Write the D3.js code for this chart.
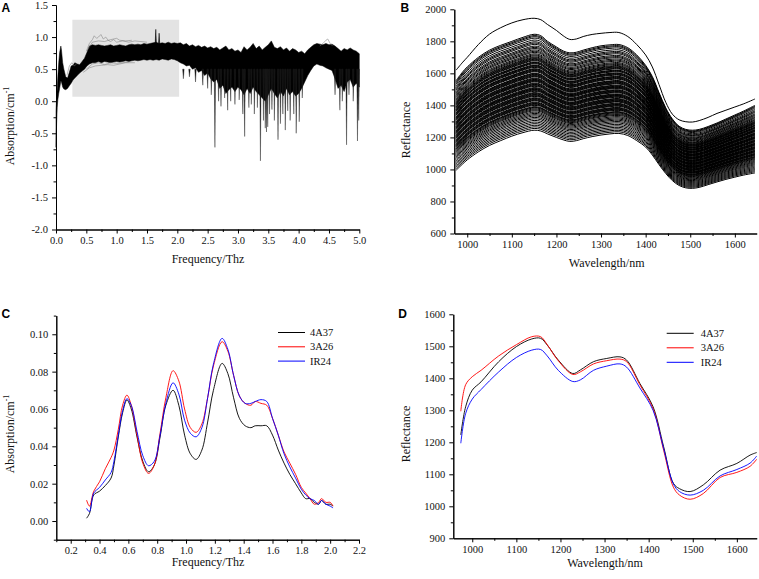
<!DOCTYPE html>
<html>
<head>
<meta charset="UTF-8">
<style>
body { margin: 0; padding: 0; background: #fff; }
svg { display: block; font-family: "Liberation Serif", "Times New Roman", serif; }
.tick text { font-family: "Liberation Serif", "Times New Roman", serif; font-size: 10.5px; fill: #111; }
.title { font-family: "Liberation Serif", "Times New Roman", serif; font-size: 12px; fill: #111; }
.legend { font-family: "Liberation Serif", "Times New Roman", serif; font-size: 10.5px; fill: #111; }
.panel { font-family: "Liberation Sans", Arial, sans-serif; font-weight: bold; font-size: 12px; fill: #000; }
</style>
</head>
<body>
<svg width="759" height="579"></svg>
<script src="https://d3js.org/d3.v7.min.js"></script>
<script>

// ---------- data ----------

// Panel A: THz absorption, envelope of all samples
const aFreq = [0, 0.01, 0.02, 0.03, 0.045, 0.06, 0.08, 0.09, 0.11, 0.13, 0.16, 0.19, 0.22, 0.25, 0.28, 0.31, 0.35, 0.39, 0.43, 0.47,
  0.51, 0.55, 0.6, 0.65, 0.7, 0.75, 0.8, 0.85, 0.9, 0.95, 1.0, 1.05, 1.1, 1.15, 1.2, 1.25, 1.3, 1.35, 1.4, 1.45,
  1.5, 1.55, 1.6, 1.65, 1.7, 1.75, 1.8, 1.85, 1.9, 1.95, 2.0, 2.05, 2.1, 2.15, 2.2, 2.25, 2.3, 2.35, 2.4, 2.45,
  2.5, 2.55, 2.6, 2.65, 2.7, 2.75, 2.8, 2.85, 2.9, 2.95, 3.0, 3.05, 3.1, 3.15, 3.2, 3.25, 3.3, 3.35, 3.4, 3.45,
  3.5, 3.55, 3.6, 3.65, 3.7, 3.75, 3.8, 3.85, 3.9, 3.95, 4.0, 4.05, 4.1, 4.15, 4.2, 4.25, 4.3, 4.35, 4.4, 4.45,
  4.5, 4.55, 4.6, 4.65, 4.7, 4.75, 4.8, 4.85, 4.9, 4.95, 5.0];
const aUpper = [-0.15, 0.05, 0.2, 0.38, 0.6, 0.76, 0.86, 0.8, 0.6, 0.5, 0.38, 0.36, 0.45, 0.55, 0.56, 0.6, 0.58, 0.57, 0.62, 0.67,
  0.76, 0.86, 0.88, 0.87, 0.88, 0.87, 0.86, 0.87, 0.88, 0.86, 0.87, 0.88, 0.87, 0.86, 0.88, 0.89, 0.88, 0.89, 0.88, 0.9,
  0.89, 0.9, 0.91, 0.92, 0.9, 0.91, 0.9, 0.92, 0.9, 0.91, 0.9, 0.91, 0.88, 0.9, 0.86, 0.88, 0.85, 0.87, 0.84, 0.86,
  0.83, 0.85, 0.82, 0.84, 0.8, 0.83, 0.86, 0.8, 0.82, 0.78, 0.8, 0.76, 0.85, 0.8, 0.84, 0.9, 0.82, 0.86, 0.8, 0.84,
  0.88, 0.94, 0.84, 0.82, 0.85, 0.8, 0.83, 0.78, 0.82, 0.8, 0.76, 0.78, 0.74, 0.8, 0.84, 0.88, 0.9, 0.89, 0.88, 0.9,
  0.88, 0.89, 0.86, 0.82, 0.78, 0.82, 0.8, 0.83, 0.8, 0.78, 0.74];
const aLower = [-0.72, -0.35, -0.1, 0.02, 0.12, 0.2, 0.32, 0.3, 0.22, 0.19, 0.18, 0.2, 0.24, 0.28, 0.33, 0.36, 0.4, 0.44, 0.47, 0.5,
  0.55, 0.58, 0.6, 0.6, 0.62, 0.6, 0.62, 0.61, 0.6, 0.61, 0.62, 0.61, 0.62, 0.63, 0.62, 0.63, 0.64, 0.63, 0.64, 0.65,
  0.64, 0.65, 0.64, 0.65, 0.64, 0.66, 0.65, 0.64, 0.66, 0.65, 0.63, 0.6, 0.58, 0.55, 0.56, 0.5, 0.52, 0.45, 0.48, 0.4,
  0.44, 0.35, 0.3, 0.34, 0.2, 0.25, 0.12, 0.18, 0.22, 0.15, 0.22, 0.18, 0.1, 0.2, 0.12, 0.22, 0.15, 0.1, 0.05, 0.0,
  0.1, 0.2, 0.12, 0.05, 0.15, 0.08, 0.2, 0.1, 0.15, 0.08, 0.12, 0.2, 0.3, 0.4, 0.48, 0.55, 0.58, 0.56, 0.55, 0.52,
  0.5, 0.48, 0.35, 0.2, 0.25, 0.15, 0.3, 0.34, 0.22, 0.28, 0.22];
// narrow downward dips [frequency, minimum]
const aDips = [[2.1, 0.35], [2.2, 0.38], [2.3, 0.3], [2.42, 0.25], [2.5, 0.2], [2.56, 0.1], [2.62, -0.72], [2.68, 0.0],
  [2.72, -0.08], [2.78, 0.05], [2.83, -0.14], [2.88, 0.0], [2.95, -0.05], [3.02, 0.02], [3.08, -0.2], [3.11, -0.55],
  [3.18, -0.1], [3.22, -0.05], [3.27, -0.2], [3.32, -0.1], [3.37, -0.93], [3.42, -0.3], [3.45, -0.42], [3.47, -0.48],
  [3.49, -0.4], [3.52, -0.2], [3.56, -0.13], [3.6, -0.3], [3.66, -0.6], [3.7, -0.35], [3.74, -0.2], [3.78, -0.45],
  [3.82, -0.15], [3.86, -0.3], [3.92, -0.2], [3.96, -0.5], [4.01, -0.32], [4.06, 0.05], [4.6, 0.1], [4.68, -0.14],
  [4.72, 0.0], [4.79, -0.68], [4.83, 0.1], [4.9, 0.0], [4.97, -0.62], [4.99, -0.3]];
const aPeaks = [[1.645, 1.12], [1.7, 1.06]];
// single outlying spectra drawn in grey
const aOutliers = [
  [[0.5, 0.78], [0.55, 0.9], [0.6, 0.96], [0.63, 1.02], [0.67, 0.98], [0.7, 1.0], [0.74, 1.04], [0.78, 0.97], [0.82, 1.0],
   [0.86, 0.95], [0.9, 0.93], [0.95, 0.96], [1.0, 0.92], [1.1, 0.94], [1.2, 0.92], [1.3, 0.94], [1.4, 0.93], [1.5, 0.92]],
  [[0.52, 0.8], [0.6, 0.92], [0.7, 0.94], [0.8, 0.93], [0.9, 0.96], [1.0, 0.98], [1.05, 0.95], [1.15, 0.94], [1.25, 0.95]],
  [[0.45, 0.45], [0.55, 0.52], [0.65, 0.55], [0.75, 0.56], [0.85, 0.57], [0.95, 0.56], [1.05, 0.58], [1.15, 0.6], [1.3, 0.6]],
  [[0.5, 0.5], [0.6, 0.58], [0.7, 0.6], [0.8, 0.57], [0.9, 0.6], [1.0, 0.59], [1.2, 0.61]],
  [[0.18, 0.4], [0.22, 0.55], [0.26, 0.6], [0.3, 0.55], [0.34, 0.58]],
  [[4.35, 0.86], [4.4, 0.9], [4.45, 0.95], [4.48, 0.97], [4.52, 0.9], [4.56, 0.86]]
];
const aBox = [0.27, 2.03, 0.07, 1.27];   // selected band: f0, f1, v0, v1
const aXTicks = [0, 0.5, 1, 1.5, 2, 2.5, 3, 3.5, 4, 4.5, 5];
const aYTicks = [-2, -1.5, -1, -0.5, 0, 0.5, 1, 1.5];

// Panel B: NIR reflectance of all samples
const bWave = [975, 990, 1000, 1025, 1050, 1075, 1100, 1125, 1150, 1165, 1180, 1200, 1215, 1230, 1245, 1260, 1280, 1300, 1320,
  1340, 1360, 1380, 1400, 1415, 1430, 1445, 1460, 1475, 1490, 1505, 1520, 1540, 1560, 1580, 1600, 1620, 1645];
const bTop = [1620, 1670, 1700, 1780, 1845, 1885, 1915, 1935, 1944, 1935, 1905, 1868, 1835, 1812, 1815, 1830, 1843, 1850, 1855,
  1855, 1830, 1780, 1715, 1640, 1530, 1420, 1345, 1310, 1298, 1296, 1305, 1325, 1350, 1370, 1390, 1410, 1440];
const bHigh = [1555, 1610, 1640, 1700, 1745, 1775, 1800, 1825, 1844, 1835, 1800, 1765, 1740, 1728, 1732, 1745, 1760, 1772, 1778,
  1780, 1760, 1715, 1650, 1580, 1480, 1385, 1315, 1270, 1250, 1245, 1250, 1268, 1290, 1315, 1340, 1365, 1400];
const bLow = [995, 1035, 1060, 1110, 1150, 1180, 1208, 1230, 1245, 1240, 1222, 1200, 1185, 1175, 1180, 1192, 1205, 1215, 1222,
  1225, 1212, 1180, 1140, 1090, 1030, 975, 930, 900, 885, 882, 888, 905, 922, 938, 952, 965, 978];
// level of every other spectrum at 1150 nm
const bLevels = [1844, 1836, 1829, 1820, 1808, 1797, 1789, 1781, 1770, 1762, 1755, 1746, 1738, 1731, 1722, 1715, 1709, 1702,
  1697, 1692, 1688, 1683, 1679, 1671, 1668, 1664, 1660, 1652, 1649, 1645, 1641, 1637, 1629, 1626, 1622, 1618, 1614, 1610,
  1601, 1598, 1594, 1590, 1586, 1582, 1578, 1570, 1566, 1562, 1558, 1555, 1551, 1547, 1539, 1535, 1531, 1527, 1523, 1519,
  1511, 1507, 1503, 1500, 1496, 1492, 1488, 1480, 1476, 1472, 1468, 1464, 1460, 1456, 1448, 1444, 1440, 1436, 1432, 1428,
  1420, 1416, 1412, 1408, 1404, 1400, 1392, 1388, 1384, 1378, 1372, 1366, 1358, 1350, 1342, 1334, 1325, 1316, 1306, 1296,
  1286, 1276, 1266, 1256, 1245];
const bXTicks = [1000, 1100, 1200, 1300, 1400, 1500, 1600];
const bYTicks = [600, 800, 1000, 1200, 1400, 1600, 1800, 2000];

// Panel C: averaged absorption of three varieties
const cFreq = [0.31, 0.33, 0.36, 0.40, 0.44, 0.48, 0.50, 0.53, 0.56, 0.59, 0.62, 0.66, 0.70, 0.74, 0.78, 0.82, 0.86, 0.91,
  0.95, 0.99, 1.03, 1.07, 1.11, 1.15, 1.19, 1.25, 1.29, 1.33, 1.37, 1.41, 1.45, 1.48, 1.52, 1.56, 1.60, 1.64, 1.68, 1.72,
  1.76, 1.80, 1.83, 1.86, 1.89, 1.92, 1.94, 1.97, 2.00, 2.02];
const c4A37 = [0.0015, 0.004, 0.014, 0.016, 0.019, 0.023, 0.030, 0.045, 0.058, 0.0648, 0.060, 0.045, 0.032, 0.0264, 0.030, 0.045,
  0.062, 0.070, 0.062, 0.046, 0.036, 0.033, 0.038, 0.053, 0.070, 0.0844, 0.079, 0.066, 0.055, 0.051, 0.050, 0.051, 0.051,
  0.051, 0.046, 0.038, 0.031, 0.025, 0.020, 0.015, 0.012, 0.012, 0.010, 0.009, 0.011, 0.009, 0.009, 0.008];
const c3A26 = [0.0112, 0.008, 0.016, 0.021, 0.028, 0.034, 0.038, 0.049, 0.062, 0.0674, 0.062, 0.046, 0.031, 0.0255, 0.030, 0.047,
  0.066, 0.0805, 0.075, 0.060, 0.050, 0.0475, 0.052, 0.066, 0.083, 0.096, 0.091, 0.078, 0.067, 0.063, 0.062, 0.064, 0.063,
  0.062, 0.055, 0.046, 0.037, 0.031, 0.025, 0.018, 0.015, 0.012, 0.009, 0.010, 0.012, 0.010, 0.010, 0.008];
const cIR24 = [0.0068, 0.005, 0.015, 0.018, 0.022, 0.026, 0.032, 0.046, 0.059, 0.0655, 0.062, 0.048, 0.035, 0.0296, 0.032, 0.046,
  0.063, 0.074, 0.068, 0.054, 0.047, 0.0451, 0.050, 0.066, 0.084, 0.0978, 0.092, 0.078, 0.067, 0.063, 0.063, 0.064, 0.065,
  0.064, 0.055, 0.046, 0.036, 0.029, 0.023, 0.017, 0.014, 0.012, 0.011, 0.009, 0.011, 0.009, 0.008, 0.007];
const cXTicks = [0.2, 0.4, 0.6, 0.8, 1.0, 1.2, 1.4, 1.6, 1.8, 2.0, 2.2];
const cYTicks = [0, 0.02, 0.04, 0.06, 0.08, 0.10];

// Panel D: averaged reflectance of three varieties
const dWave = [974, 985, 1000, 1020, 1060, 1100, 1135, 1155, 1170, 1195, 1228, 1245, 1275, 1305, 1335, 1350, 1380, 1410,
  1434, 1456, 1470, 1494, 1524, 1562, 1600, 1630, 1645];
const d4A37 = [1223, 1311, 1363, 1389, 1452, 1499, 1523, 1525, 1504, 1457, 1415, 1426, 1452, 1462, 1467, 1457, 1384, 1311,
  1186, 1072, 1055, 1046, 1067, 1113, 1134, 1160, 1168];
const d3A26 = [1297, 1380, 1405, 1425, 1470, 1505, 1530, 1530, 1505, 1455, 1412, 1420, 1445, 1455, 1460, 1452, 1380, 1305,
  1175, 1060, 1035, 1022, 1040, 1090, 1106, 1125, 1147];
const dIR24 = [1197, 1290, 1335, 1365, 1420, 1465, 1488, 1490, 1470, 1425, 1390, 1395, 1425, 1438, 1445, 1435, 1370, 1300,
  1180, 1070, 1046, 1035, 1050, 1095, 1115, 1135, 1157];
const dXTicks = [1000, 1100, 1200, 1300, 1400, 1500, 1600];
const dYTicks = [900, 1000, 1100, 1200, 1300, 1400, 1500, 1600];

const varieties = ["4A37", "3A26", "IR24"];
const varietyColors = ["#000000", "#ff0000", "#0000ff"];

// ---------- drawing ----------

const serif = '"Liberation Serif", "Times New Roman", serif';
const svg = d3.select("svg");

function halfSteps(ticks, lo, hi) {
  const step = ticks[1] - ticks[0];
  const out = [];
  for (let v = ticks[0] - step / 2; v <= ticks[ticks.length - 1] + step / 2 + 1e-9; v += step) {
    if (v >= lo - 1e-9 && v <= hi + 1e-9) out.push(+v.toFixed(6));
  }
  return out;
}

function drawAxes(x, y, xTicks, yTicks, xFmt, yFmt) {
  const xb = y.range()[0], yl = x.range()[0];
  const xd = x.domain(), yd = y.domain();
  const groups = [];
  groups.push(svg.append("g").attr("transform", `translate(0,${xb})`)
    .call(d3.axisBottom(x).tickValues(halfSteps(xTicks, xd[0], xd[1])).tickSize(2.5).tickSizeOuter(0).tickFormat("")));
  groups.push(svg.append("g").attr("transform", `translate(0,${xb})`)
    .call(d3.axisBottom(x).tickValues(xTicks).tickSize(4).tickPadding(3).tickSizeOuter(0).tickFormat(xFmt)));
  groups.push(svg.append("g").attr("transform", `translate(${yl},0)`)
    .call(d3.axisLeft(y).tickValues(halfSteps(yTicks, yd[0], yd[1])).tickSize(2.5).tickSizeOuter(0).tickFormat("")));
  groups.push(svg.append("g").attr("transform", `translate(${yl},0)`)
    .call(d3.axisLeft(y).tickValues(yTicks).tickSize(4).tickPadding(4).tickSizeOuter(0).tickFormat(yFmt)));
  groups.forEach(g => {
    g.attr("font-family", serif).attr("font-size", 10.5);
    g.selectAll("text").style("font-family", serif).attr("fill", "#111");
    g.select(".domain").attr("stroke", "#000").attr("stroke-width", 1);
    g.selectAll(".tick line").attr("stroke", "#000");
  });
}

function xTitle(text, cx, by) {
  svg.append("text").attr("class", "title").style("font-family", serif)
    .attr("x", cx).attr("y", by)
    .attr("text-anchor", "middle").text(text);
}

function yTitle(text, sup, bx, cy) {
  const t = svg.append("text").attr("class", "title").style("font-family", serif)
    .attr("transform", `translate(${bx},${cy}) rotate(-90)`)
    .attr("text-anchor", "middle").text(text);
  if (sup) t.append("tspan").attr("font-size", "8px").attr("dy", -5).text(sup);
}

function panelLabel(text, px, py) {
  svg.append("text").attr("class", "panel").attr("x", px).attr("y", py).text(text);
}

// ----- A -----
{
  const x = d3.scaleLinear().domain([0, 5]).range([56, 359.3]);
  const y = d3.scaleLinear().domain([-2, 1.5]).range([229.5, 5]);

  svg.append("rect")
    .attr("x", x(aBox[0])).attr("y", y(aBox[3]))
    .attr("width", x(aBox[1]) - x(aBox[0])).attr("height", y(aBox[2]) - y(aBox[3]))
    .attr("fill", "#e3e3e3");

  const band = aFreq.map((f, i) => ({ f: f, hi: aUpper[i], lo: aLower[i] }));
  svg.append("path")
    .datum(band)
    .attr("d", d3.area().x(d => x(d.f)).y0(d => y(d.lo)).y1(d => y(d.hi)))
    .attr("fill", "#000").attr("stroke", "#000").attr("stroke-width", 0.5);

  const hw = 0.012;
  svg.append("g").selectAll("path")
    .data(aDips)
    .enter().append("path")
    .attr("d", d => `M${x(d[0] - hw)},${y(0.5)}L${x(d[0])},${y(d[1])}L${x(d[0] + hw)},${y(0.5)}Z`)
    .attr("fill", "#111").attr("stroke", "#222").attr("stroke-width", 0.4);

  svg.append("g").selectAll("path")
    .data(aPeaks)
    .enter().append("path")
    .attr("d", d => `M${x(d[0] - hw)},${y(0.85)}L${x(d[0])},${y(d[1])}L${x(d[0] + hw)},${y(0.85)}Z`)
    .attr("fill", "#000").attr("stroke", "#000").attr("stroke-width", 0.5);

  const line = d3.line().x(d => x(d[0])).y(d => y(d[1])).curve(d3.curveLinear);
  svg.append("g").selectAll("path")
    .data(aOutliers)
    .enter().append("path")
    .attr("d", line)
    .attr("fill", "none").attr("stroke", "#777").attr("stroke-width", 0.5);

  drawAxes(x, y, aXTicks, aYTicks, d => d.toFixed(1), d => d.toFixed(1));
  xTitle("Frequency/Thz", 208, 263);
  yTitle("Absorption/cm", "-1", 14, 126);
  panelLabel("A", 1.5, 11.7);
}

// ----- B -----
{
  const x = d3.scaleLinear().domain([971, 1649]).range([454.3, 756.7]);
  const y = d3.scaleLinear().domain([600, 2000]).range([233.5, 9.3]);
  const ref = bWave.indexOf(1150);
  const spectra = bLevels.map(L => {
    const t = (L - bLow[ref]) / (bHigh[ref] - bLow[ref]);
    return bWave.map((w, i) => [w, bLow[i] + t * (bHigh[i] - bLow[i])]);
  });
  spectra.push(bWave.map((w, i) => [w, bTop[i]]));

  const line = d3.line().x(d => x(d[0])).y(d => y(d[1])).curve(d3.curveCatmullRom);
  svg.append("g").selectAll("path")
    .data(spectra)
    .enter().append("path")
    .attr("d", line)
    .attr("fill", "none").attr("stroke", "#000").attr("stroke-width", 1);

  drawAxes(x, y, bXTicks, bYTicks, d3.format("d"), d3.format("d"));
  xTitle("Wavelength/nm", 606.7, 267);
  yTitle("Reflectance", null, 410, 130);
  panelLabel("B", 400.5, 11.7);
}

// ----- C -----
{
  const x = d3.scaleLinear().domain([0.1, 2.2]).range([56.3, 359]);
  const y = d3.scaleLinear().domain([-0.01, 0.11]).range([539.7, 315.6]);
  const series = [c4A37, c3A26, cIR24];
  const line = d3.line().x(d => x(d[0])).y(d => y(d[1])).curve(d3.curveCatmullRom);
  svg.append("g").selectAll("path")
    .data(series)
    .enter().append("path")
    .attr("d", s => line(cFreq.map((f, i) => [f, s[i]])))
    .attr("fill", "none")
    .attr("stroke", (s, i) => varietyColors[i])
    .attr("stroke-width", 0.9);

  const lg = svg.append("g").attr("transform", "translate(278,332.5)");
  varieties.forEach((name, i) => {
    lg.append("line").attr("x1", 0).attr("x2", 27).attr("y1", i * 14.3).attr("y2", i * 14.3)
      .attr("stroke", varietyColors[i]).attr("stroke-width", 1);
    lg.append("text").attr("class", "legend").style("font-family", serif)
      .attr("x", 32).attr("y", i * 14.3 + 3.6).text(name);
  });

  drawAxes(x, y, cXTicks, cYTicks, d => d.toFixed(1), d => d.toFixed(2));
  xTitle("Frequency/Thz", 208, 566);
  yTitle("Absorption/cm", "-1", 14, 434);
  panelLabel("C", 1.5, 318.3);
}

// ----- D -----
{
  const x = d3.scaleLinear().domain([957, 1645]).range([453.3, 756.7]);
  const y = d3.scaleLinear().domain([900, 1600]).range([538.3, 314.3]);
  const series = [d4A37, d3A26, dIR24];
  const line = d3.line().x(d => x(d[0])).y(d => y(d[1])).curve(d3.curveCatmullRom);
  svg.append("g").selectAll("path")
    .data(series)
    .enter().append("path")
    .attr("d", s => line(dWave.map((w, i) => [w, s[i]])))
    .attr("fill", "none")
    .attr("stroke", (s, i) => varietyColors[i])
    .attr("stroke-width", 0.9);

  const lg = svg.append("g").attr("transform", "translate(666.7,333.3)");
  varieties.forEach((name, i) => {
    lg.append("line").attr("x1", 0).attr("x2", 27).attr("y1", i * 14.5).attr("y2", i * 14.5)
      .attr("stroke", varietyColors[i]).attr("stroke-width", 1);
    lg.append("text").attr("class", "legend").style("font-family", serif)
      .attr("x", 34).attr("y", i * 14.5 + 3.6).text(name);
  });

  drawAxes(x, y, dXTicks, dYTicks, d3.format("d"), d3.format("d"));
  xTitle("Wavelength/nm", 605, 567);
  yTitle("Reflectance", null, 410, 434);
  panelLabel("D", 398.3, 318.3);
}

</script>
</body>
</html>
